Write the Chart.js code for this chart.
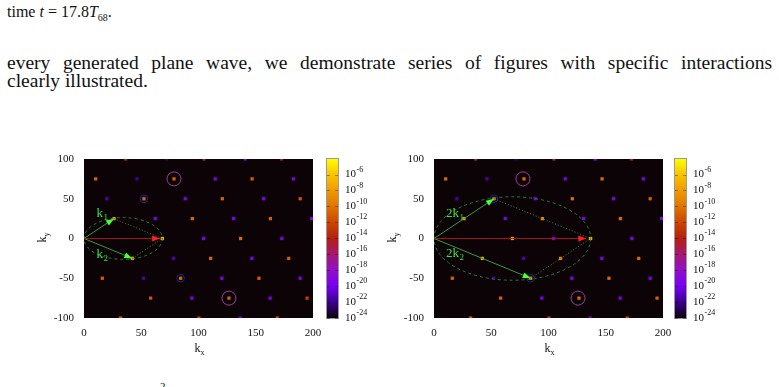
<!DOCTYPE html>
<html><head><meta charset="utf-8">
<script src="https://cdn.jsdelivr.net/npm/chart.js@4/dist/chart.umd.min.js"></script>
<style>
html,body{margin:0;padding:0;background:#fff;width:779px;height:387px;overflow:hidden;position:relative;font-family:"Liberation Serif","Times New Roman",serif;color:#111;}
.t{position:absolute;white-space:nowrap;line-height:1;}
#l1{left:7px;top:4px;font-size:16px;}
#p1{left:7px;top:53px;width:765px;font-size:19.5px;text-align:justify;text-align-last:justify;white-space:normal;}
#p2{left:7px;top:71px;font-size:19.5px;}
#cut{left:160px;top:381px;font-size:11px;}
canvas{position:absolute;}
</style></head>
<body>
<div class="t" id="l1">time <i>t</i> = 17.8<i>T</i><sub style="font-size:10px">68</sub>.</div>
<div class="t" id="p1">every generated plane wave, we demonstrate series of figures with specific interactions</div>
<div class="t" id="p2">clearly illustrated.</div>
<div class="t" id="cut">2</div>
<canvas id="cL" width="380" height="240" style="left:0;top:140px"></canvas>
<canvas id="cR" width="399" height="240" style="left:380px;top:140px"></canvas>
<script>
// ---------------- data ----------------
const xTickValues = [0, 50, 100, 150, 200];
const yTickValues = [-100, -50, 0, 50, 100];
const cbTickExps = [-6, -8, -10, -12, -14, -16, -18, -20, -22, -24];
const cbMin = -24, cbMax = -4.05;

// left panel spectral peaks: kx, ky, log10 amplitude
const leftKx = [36.4, 72, 104.8, 140.8, 172.5,
  10.2, 46.2, 78.6, 114.6, 146.8, 182.8,
  20, 52.4, 88.4, 120.8, 156.8, 188.8,
  26.2, 62.2, 94.6, 130.6, 162.8, 198.8,
  68.4, 104.4, 136.8, 172.8,
  42.2, 78.2, 110.6, 146.6, 178.8,
  16, 52, 84.4, 120.4, 152.8, 188.8,
  58.2, 94.2, 126.6, 162.6, 194.8,
  32, 100.4, 136.4, 168.8];
const leftKy = [100, 100, 100, 100, 100,
  75, 75, 75, 75, 75, 75,
  50, 50, 50, 50, 50, 50,
  25, 25, 25, 25, 25, 25,
  0, 0, 0, 0,
  -25, -25, -25, -25, -25,
  -50, -50, -50, -50, -50, -50,
  -75, -75, -75, -75, -75,
  -100, -100, -100, -100];
const leftLogA = [-14, -22.5, -15.5, -19.8, -14,
  -10.8, -21.8, -10.8, -19.8, -11, -19.8,
  -21.5, -10.5, -19.8, -10.8, -19.8, -11.5,
  -7, -19.8, -10.5, -19.8, -11, -19.6,
  -6.5, -19.8, -10.5, -19.8,
  -7, -21.5, -10.8, -19.8, -11,
  -11, -21.5, -10.5, -19.8, -11, -19.8,
  -11.5, -19.8, -10.8, -19.8, -12.5,
  -11.5, -12.5, -20.5, -12];

// right panel spectral peaks
const rightKx = leftKx.slice();
const rightKy = leftKy.slice();
const rightLogA = [-14, -22.5, -15.5, -19.8, -14,
  -10.5, -21.5, -10.5, -19.8, -10.5, -19.8,
  -21.5, -8, -19.8, -10.2, -19.8, -11,
  -7.5, -19.8, -9, -19.8, -10.5, -19.6,
  -7, -19.8, -6.5, -19.8,
  -7.5, -21.5, -9.5, -19.8, -10.5,
  -10.8, -21.5, -8, -19.8, -10.5, -19.8,
  -11, -19.8, -10.5, -19.8, -11,
  -11.5, -12.5, -20.5, -12];

// wave vectors (from, to)
const leftK1 = [[0, 0], [26.2, 25]];
const leftK2 = [[0, 0], [42.2, -25]];
const leftSum = [[0, 0], [66.5, 0]];
const leftDot1 = [[26.2, 25], [68.4, 0]];
const leftDot2 = [[42.2, -25], [68.4, 0]];
const leftEllipse = [34.2, 0, 34.2, 26.3];   // cx, cy, rx, ry
const leftRings = [[78.6, 75], [126.6, -75]];
const leftSmallRings = [[52.4, 50], [84.4, -50]];
const leftLabels = [["k", "1", 11, 30.8], ["k", "2", 11, -20]];

const rightK1 = [[0, 0], [52.4, 50]];
const rightK2 = [[0, 0], [84.4, -50]];
const rightSum = [[0, 0], [133, 0]];
const rightDot1 = [[52.4, 50], [136.8, 0]];
const rightDot2 = [[84.4, -50], [136.8, 0]];
const rightEllipse = [68.4, 0, 68.4, 52.5];
const rightRings = [[77.7, 75], [125.8, -75]];
const rightSmallRings = [[52.4, 50], [84.4, -50]];
const rightLabels = [["2k", "1", 10.5, 30.8], ["2k", "2", 10.5, -19.5]];

// ---------------- style ----------------
const FONT = '"Liberation Serif","Times New Roman",serif';
const palStops = [-24, -22, -20, -18, -16, -14, -12, -10, -8, -6, -4];
const palCols = ['#0a000a', '#3c0090', '#7800f4', '#9010c8', '#a61870', '#b42010', '#cc4600', '#e07400', '#f09a00', '#f8c400', '#ffff00'];
const plotBg = '#0c0307';

function hex(c) { return [parseInt(c.slice(1, 3), 16), parseInt(c.slice(3, 5), 16), parseInt(c.slice(5, 7), 16)]; }
function palette(v) {
  if (v <= palStops[0]) return palCols[0];
  for (let i = 1; i < palStops.length; i++) {
    if (v <= palStops[i]) {
      const f = (v - palStops[i - 1]) / (palStops[i] - palStops[i - 1]);
      const a = hex(palCols[i - 1]), b = hex(palCols[i]);
      return 'rgb(' + a.map((q, k) => Math.round(q + (b[k] - q) * f)).join(',') + ')';
    }
  }
  return palCols[palCols.length - 1];
}

function lineDs(pts, color, dash, head) {
  return {
    type: 'line', data: pts.map(p => ({ x: p[0], y: p[1] })), showLine: true,
    borderColor: color, borderWidth: 1, borderDash: dash, pointRadius: 0,
    fill: false, order: 1, arrowHead: head || null
  };
}

const panelPlugin = {
  id: 'panel',
  beforeDatasetsDraw(chart) {
    const { ctx, chartArea: a } = chart;
    ctx.save();
    ctx.fillStyle = plotBg;
    ctx.fillRect(a.left, a.top, a.right - a.left, a.bottom - a.top);
    ctx.restore();
  },
  afterDatasetsDraw(chart) {
    const p = chart.options.plugins.panel;
    const { ctx, chartArea: a } = chart;
    const x = chart.scales.x, y = chart.scales.y;
    ctx.save();
    ctx.beginPath(); ctx.rect(a.left, a.top, a.right - a.left, a.bottom - a.top); ctx.clip();
    const e = p.ellipse;
    const cx = x.getPixelForValue(e[0]), cy = y.getPixelForValue(e[1]);
    const rx = x.getPixelForValue(e[0] + e[2]) - cx, ry = cy - y.getPixelForValue(e[1] + e[3]);
    ctx.setLineDash([3, 3]); ctx.strokeStyle = '#2c7d2c'; ctx.lineWidth = 1;
    ctx.beginPath(); ctx.ellipse(cx, cy, rx, ry, 0, 0, 2 * Math.PI); ctx.stroke();
    ctx.setLineDash([]);
    ctx.strokeStyle = '#a03c9c';
    p.rings.forEach(r => { ctx.beginPath(); ctx.arc(x.getPixelForValue(r[0]), y.getPixelForValue(r[1]), 7, 0, 2 * Math.PI); ctx.stroke(); });
    ctx.strokeStyle = '#22229a';
    p.smallRings.forEach(r => { ctx.beginPath(); ctx.arc(x.getPixelForValue(r[0]), y.getPixelForValue(r[1]), 3.8, 0, 2 * Math.PI); ctx.stroke(); });
    chart.data.datasets.forEach((ds, i) => {
      if (!ds.arrowHead) return;
      const pts = chart.getDatasetMeta(i).data;
      const p1 = pts[pts.length - 2], p2 = pts[pts.length - 1];
      const ang = Math.atan2(p2.y - p1.y, p2.x - p1.x);
      const L = 8, W = 3;
      ctx.fillStyle = ds.arrowHead;
      ctx.beginPath();
      ctx.moveTo(p2.x, p2.y);
      ctx.lineTo(p2.x - L * Math.cos(ang) + W * Math.sin(ang), p2.y - L * Math.sin(ang) - W * Math.cos(ang));
      ctx.lineTo(p2.x - L * Math.cos(ang) - W * Math.sin(ang), p2.y - L * Math.sin(ang) + W * Math.cos(ang));
      ctx.closePath(); ctx.fill();
    });
    ctx.fillStyle = '#3ee03e';
    ctx.textBaseline = 'middle'; ctx.textAlign = 'left';
    p.labels.forEach(l => {
      const lx = x.getPixelForValue(l[2]), ly = y.getPixelForValue(l[3]);
      ctx.font = '13px ' + FONT;
      ctx.fillText(l[0], lx, ly);
      const w = ctx.measureText(l[0]).width;
      ctx.font = '9px ' + FONT;
      ctx.fillText(l[1], lx + w + 0.5, ly + 4);
    });
    ctx.restore();
  },
  afterDraw(chart) {
    const p = chart.options.plugins.panel;
    const { ctx, chartArea: a } = chart;
    const cb = chart.scales.cb;
    ctx.save();
    const bx = a.right + p.cbGap, bw = 11;
    const top = cb.getPixelForValue(cbMax), bot = cb.getPixelForValue(cbMin);
    const g = ctx.createLinearGradient(0, cb.getPixelForValue(palStops[0]), 0, cb.getPixelForValue(palStops[palStops.length - 1]));
    palStops.forEach((v, i) => g.addColorStop(i / (palStops.length - 1), palCols[i]));
    ctx.fillStyle = g;
    ctx.fillRect(bx, top, bw, bot - top);
    ctx.strokeStyle = '#9a9a9a'; ctx.lineWidth = 1;
    ctx.strokeRect(bx - 0.5, top - 0.5, bw + 1, bot - top + 1);
    ctx.strokeStyle = 'rgba(0,0,0,0.35)';
    cbTickExps.forEach(ex => {
      const yy = Math.round(cb.getPixelForValue(ex)) + 0.5;
      ctx.beginPath(); ctx.moveTo(bx, yy); ctx.lineTo(bx + 3, yy); ctx.moveTo(bx + bw - 3, yy); ctx.lineTo(bx + bw, yy); ctx.stroke();
    });
    ctx.fillStyle = '#111'; ctx.textBaseline = 'middle'; ctx.textAlign = 'left';
    cbTickExps.forEach(ex => {
      const yy = cb.getPixelForValue(ex);
      ctx.font = '11px ' + FONT;
      ctx.fillText('10', bx + bw + 7, yy);
      const w = ctx.measureText('10').width;
      ctx.font = '8px ' + FONT;
      ctx.fillText('-' + Math.abs(ex), bx + bw + 7 + w + 0.5, yy - 5);
    });
    const xc = (a.left + a.right) / 2;
    ctx.textBaseline = 'alphabetic';
    ctx.font = '12px ' + FONT;
    const kw = ctx.measureText('k').width;
    ctx.fillText('k', xc - 4, a.bottom + 34);
    ctx.font = '8px ' + FONT;
    ctx.fillText('x', xc - 4 + kw, a.bottom + 37);
    ctx.translate(a.left - 38, (a.top + a.bottom) / 2 + 4);
    ctx.rotate(-Math.PI / 2);
    ctx.font = '12px ' + FONT;
    ctx.fillText('k', 0, 0);
    ctx.font = '8px ' + FONT;
    ctx.fillText('y', kw, 3);
    ctx.restore();
  }
};

function makeChart(id, kx, ky, logA, lines, opts) {
  const dots = {
    type: 'scatter',
    data: kx.map((v, i) => ({ x: v, y: ky[i] })),
    pointStyle: 'rect', pointRadius: 2.3, pointBorderWidth: 0,
    pointBackgroundColor: logA.map(palette), order: 10
  };
  return new Chart(document.getElementById(id), {
    type: 'scatter',
    data: { datasets: [dots].concat(lines) },
    options: {
      responsive: false, animation: false, devicePixelRatio: 1, events: [],
      layout: { padding: { left: 0, top: 19, right: opts.padRight, bottom: 0 } },
      plugins: {
        legend: { display: false }, tooltip: { enabled: false },
        panel: opts
      },
      scales: {
        x: {
          type: 'linear', min: 0, max: 200, position: 'bottom',
          grid: { display: false, drawTicks: false }, border: { display: false },
          afterBuildTicks: s => { s.ticks = xTickValues.map(v => ({ value: v })); },
          ticks: { padding: 9, maxRotation: 0, color: '#111', font: { family: FONT, size: 11 } },
          afterFit: s => { s.height = 62; }
        },
        y: {
          type: 'linear', min: -100, max: 100, position: 'left',
          grid: { display: false, drawTicks: false }, border: { display: false },
          afterBuildTicks: s => { s.ticks = yTickValues.map(v => ({ value: v })); },
          ticks: { padding: 10, color: '#111', font: { family: FONT, size: 11 } },
          afterFit: s => { s.width = opts.yWidth; }
        },
        cb: { type: 'linear', display: false, min: cbMin, max: cbMax, position: 'right' }
      }
    },
    plugins: [panelPlugin]
  });
}

const GREEN = '#3a9a3a', GREEN_HEAD = '#4cff3c', RED = '#a01616', RED_HEAD = '#ff2020', GREEN_DOT = '#3a8a3a';

makeChart('cL', leftKx, leftKy, leftLogA, [
  lineDs(leftDot1, GREEN_DOT, [1, 2]), lineDs(leftDot2, GREEN_DOT, [1, 2]),
  lineDs(leftSum, RED, [], RED_HEAD),
  lineDs(leftK1, GREEN, [], GREEN_HEAD), lineDs(leftK2, GREEN, [], GREEN_HEAD)
], { padRight: 67, yWidth: 84, cbGap: 14, ellipse: leftEllipse, rings: leftRings, smallRings: leftSmallRings, labels: leftLabels });

makeChart('cR', rightKx, rightKy, rightLogA, [
  lineDs(rightDot1, GREEN_DOT, [1, 2]), lineDs(rightDot2, GREEN_DOT, [1, 2]),
  lineDs(rightSum, RED, [], RED_HEAD),
  lineDs(rightK1, GREEN, [], GREEN_HEAD), lineDs(rightK2, GREEN, [], GREEN_HEAD)
], { padRight: 116, yWidth: 54, cbGap: 12, ellipse: rightEllipse, rings: rightRings, smallRings: rightSmallRings, labels: rightLabels });
</script>
</body></html>
